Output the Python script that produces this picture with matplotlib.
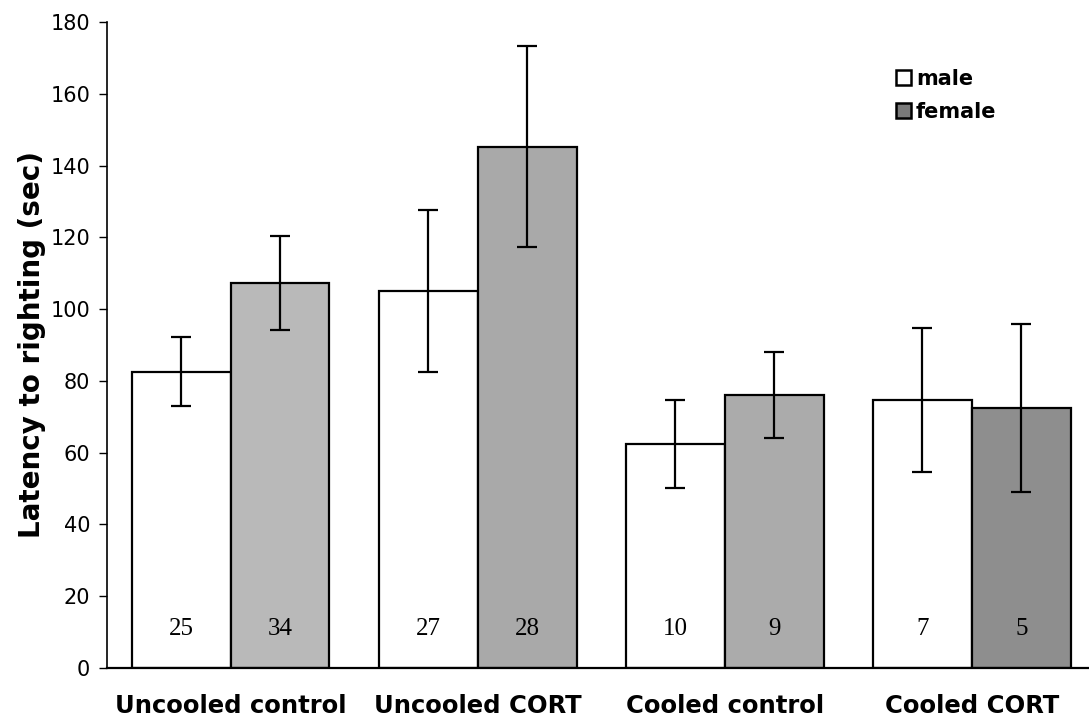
import matplotlib
matplotlib.use("Agg")
import matplotlib.pyplot as plt
import numpy as np
from matplotlib.patches import Patch

categories = ["Uncooled control", "Uncooled CORT", "Cooled control", "Cooled CORT"]
male_mean = [82.6, 105.0, 62.4, 74.6]
male_err = [9.6, 22.6, 12.2, 20.0]
female_mean = [107.4, 145.3, 76.0, 72.5]
female_err = [13.1, 28.0, 12.0, 23.4]
male_n = ["25", "27", "10", "7"]
female_n = ["34", "28", "9", "5"]
female_colors = ["#b9b9b9", "#a9a9a9", "#ababab", "#8e8e8e"]
yticks = [0, 20, 40, 60, 80, 100, 120, 140, 160, 180]

plt.rcParams['font.family'] = ['DejaVu Sans']

W, H = 1089, 721
fig = plt.figure(figsize=(W / 100, H / 100), dpi=100)
ax = fig.add_axes([107 / W, 53 / H, (1089 - 107) / W, (668 - 22) / H])

x = np.arange(len(categories))
bw = 0.4
ax.bar(x - bw / 2, male_mean, width=bw, color="white", edgecolor="black", linewidth=1.6, zorder=2)
ax.bar(x + bw / 2, female_mean, width=bw, color=female_colors, edgecolor="black", linewidth=1.6, zorder=2)
ax.errorbar(x - bw / 2, male_mean, yerr=male_err, fmt="none", ecolor="black",
            elinewidth=1.6, capsize=7.5, capthick=1.6, zorder=3)
ax.errorbar(x + bw / 2, female_mean, yerr=female_err, fmt="none", ecolor="black",
            elinewidth=1.6, capsize=7.5, capthick=1.6, zorder=3)

for i in range(len(categories)):
    ax.text(x[i] - bw / 2, 11, male_n[i], ha="center", va="center",
            fontsize=18, family="Liberation Serif", zorder=4)
    ax.text(x[i] + bw / 2, 11, female_n[i], ha="center", va="center",
            fontsize=18, family="Liberation Serif", zorder=4)

ax.set_xlim(-0.5, 3.474)
ax.set_ylim(0, 180)
ax.set_yticks(yticks)
ax.set_yticklabels([str(v) for v in yticks], fontsize=15)
ax.set_xticks(x)
ax.set_xticklabels(categories, fontsize=17.5, fontweight="bold")
ax.tick_params(axis="x", length=0, pad=19)
ax.tick_params(axis="y", length=6, width=1, pad=6, direction="out")
for s in ["top", "right"]:
    ax.spines[s].set_visible(False)
ax.spines["left"].set_linewidth(1.2)
ax.spines["bottom"].set_linewidth(1.6)
ax.set_ylabel("Latency to righting (sec)", fontsize=20, fontweight="bold")
ax.yaxis.set_label_coords((46 - 107) / 982, 0.5)

handles = [Patch(facecolor="white", edgecolor="black", linewidth=1.8, label="male"),
           Patch(facecolor="#7a7a7a", edgecolor="black", linewidth=1.8, label="female")]
leg = ax.legend(handles=handles, loc="upper left", bbox_to_anchor=(896 / W, 1 - 69 / H),
                bbox_transform=fig.transFigure, frameon=False, handlelength=0.7,
                handleheight=0.7, handletextpad=0.25, labelspacing=0.6, borderpad=0,
                borderaxespad=0, prop={"weight": "bold", "size": 15})

fig.savefig("out.png", dpi=100)
